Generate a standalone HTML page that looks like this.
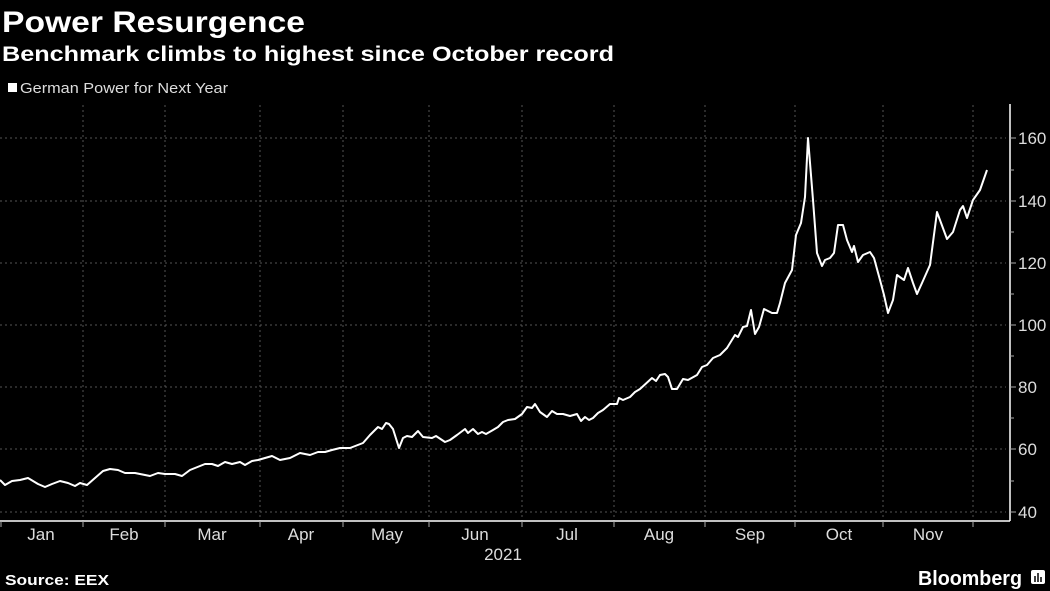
<!DOCTYPE html>
<html><head><meta charset="utf-8"><style>
html,body{margin:0;padding:0;background:#000;width:1050px;height:591px;overflow:hidden;font-family:"Liberation Sans",sans-serif;color:#fff}
</style></head><body>
<svg width="1050" height="591" viewBox="0 0 1050 591" xmlns="http://www.w3.org/2000/svg" style="position:absolute;left:0;top:0">
<text x="2" y="32" font-size="30" font-weight="bold" fill="#fff" textLength="303" lengthAdjust="spacingAndGlyphs">Power Resurgence</text>
<text x="2" y="61" font-size="21" font-weight="bold" fill="#fff" textLength="612" lengthAdjust="spacingAndGlyphs">Benchmark climbs to highest since October record</text>
<rect x="8" y="83" width="9" height="9" fill="#fff"/>
<text x="20" y="93" font-size="15" fill="#ddd" textLength="208" lengthAdjust="spacingAndGlyphs">German Power for Next Year</text>
<g stroke="#555" stroke-width="1" stroke-dasharray="2,3">
<line x1="0" x2="1006" y1="138" y2="138"/><line x1="0" x2="1006" y1="201" y2="201"/>
<line x1="0" x2="1006" y1="263" y2="263"/><line x1="0" x2="1006" y1="325" y2="325"/>
<line x1="0" x2="1006" y1="387" y2="387"/><line x1="0" x2="1006" y1="449" y2="449"/>
<line x1="0" x2="1006" y1="512" y2="512"/>
<line x1="83" x2="83" y1="105" y2="521"/><line x1="165" x2="165" y1="105" y2="521"/>
<line x1="260" x2="260" y1="105" y2="521"/><line x1="343" x2="343" y1="105" y2="521"/>
<line x1="429" x2="429" y1="105" y2="521"/><line x1="522" x2="522" y1="105" y2="521"/>
<line x1="614" x2="614" y1="105" y2="521"/><line x1="705" x2="705" y1="105" y2="521"/>
<line x1="795" x2="795" y1="105" y2="521"/><line x1="883" x2="883" y1="105" y2="521"/>
<line x1="973" x2="973" y1="105" y2="521"/>
</g>
<g stroke="#fff" stroke-width="1.5">
<line x1="0" x2="1010" y1="521" y2="521"/>
<line x1="1010" x2="1010" y1="104" y2="521"/>
</g>
<g stroke="#aaa" stroke-width="1">
<line x1="1" x2="1" y1="521" y2="527"/><line x1="83" x2="83" y1="521" y2="527"/><line x1="165" x2="165" y1="521" y2="527"/><line x1="260" x2="260" y1="521" y2="527"/><line x1="343" x2="343" y1="521" y2="527"/><line x1="429" x2="429" y1="521" y2="527"/><line x1="522" x2="522" y1="521" y2="527"/><line x1="614" x2="614" y1="521" y2="527"/><line x1="705" x2="705" y1="521" y2="527"/><line x1="795" x2="795" y1="521" y2="527"/><line x1="883" x2="883" y1="521" y2="527"/><line x1="973" x2="973" y1="521" y2="527"/>
<line x1="1010" x2="1016" y1="138" y2="138"/><line x1="1010" x2="1016" y1="201" y2="201"/><line x1="1010" x2="1016" y1="263" y2="263"/><line x1="1010" x2="1016" y1="325" y2="325"/><line x1="1010" x2="1016" y1="387" y2="387"/><line x1="1010" x2="1016" y1="449" y2="449"/><line x1="1010" x2="1016" y1="512" y2="512"/>
<line x1="1010" x2="1014" y1="170" y2="170"/><line x1="1010" x2="1014" y1="232" y2="232"/><line x1="1010" x2="1014" y1="294" y2="294"/><line x1="1010" x2="1014" y1="356" y2="356"/><line x1="1010" x2="1014" y1="418" y2="418"/><line x1="1010" x2="1014" y1="481" y2="481"/>
</g>
<g font-size="17" fill="#ddd">
<text x="1018" y="144">160</text><text x="1018" y="207">140</text><text x="1018" y="269">120</text><text x="1018" y="331">100</text><text x="1018" y="393">80</text><text x="1018" y="455">60</text><text x="1018" y="518">40</text>
</g>
<g font-size="17" fill="#ddd" text-anchor="middle">
<text x="41" y="540">Jan</text><text x="124" y="540">Feb</text><text x="212" y="540">Mar</text><text x="301" y="540">Apr</text><text x="387" y="540">May</text><text x="475" y="540">Jun</text><text x="567" y="540">Jul</text><text x="659" y="540">Aug</text><text x="750" y="540">Sep</text><text x="839" y="540">Oct</text><text x="928" y="540">Nov</text>
<text x="503" y="560">2021</text>
</g>
<text x="5" y="585" font-size="15" font-weight="bold" fill="#fff" textLength="104" lengthAdjust="spacingAndGlyphs">Source: EEX</text>
<text x="918" y="585" font-size="20" font-weight="bold" fill="#fff" textLength="104" lengthAdjust="spacingAndGlyphs">Bloomberg</text>
<rect x="1031" y="570" width="14" height="14" rx="2" fill="#fff"/>
<g stroke="#000" stroke-width="1.5"><line x1="1035" x2="1035" y1="576" y2="582"/><line x1="1038" x2="1038" y1="573" y2="582"/><line x1="1041" x2="1041" y1="577" y2="582"/></g>
<polyline fill="none" stroke="#fff" stroke-width="2" stroke-linejoin="round" points="0,480 5,485 12,481 20,480 28,478 33,481 38,484 45,487 52,484 60,481 68,483 75,486 80,483 87,485 95,478 103,471 110,469 118,470 125,473 135,473 140,474 150,476 158,473 165,474 175,474 182,476 190,470 200,466 205,464 212,464 218,466 225,462 232,464 240,462 245,465 252,461 258,460 265,458 272,456 280,460 290,458 300,453 310,455 318,452 325,452 332,450 340,448 350,448 363,443 370,435 378,427 382,429 386,423 389,424 393,429 399,448 403,438 407,436 412,437 418,431 423,437 432,438 436,436 445,442 450,440 457,435 465,429 468,433 473,429 478,434 482,432 486,434 493,430 498,427 503,422 508,420 515,419 522,414 527,407 532,408 535,404 540,412 547,417 552,411 557,414 563,414 570,416 577,414 581,421 585,417 589,420 593,418 598,413 603,410 610,404 617,404 619,398 623,400 630,397 635,392 640,389 652,378 656,381 660,375 665,374 668,377 672,389 677,389 683,379 688,380 697,375 702,367 707,365 713,358 720,355 727,348 735,335 738,337 743,327 747,326 751,310 755,334 759,327 764,309 772,313 777,313 780,303 785,283 792,270 796,235 801,223 805,197 808,138 813,200 817,253 822,266 825,260 830,258 834,253 838,225 843,225 847,240 852,252 854,246 858,262 863,255 870,252 874,258 880,280 884,295 888,313 893,300 897,275 904,280 908,268 913,283 917,294 922,283 930,265 937,212 947,239 953,232 960,210 963,206 967,218 973,200 980,190 987,170"/>
</svg>
</body></html>
